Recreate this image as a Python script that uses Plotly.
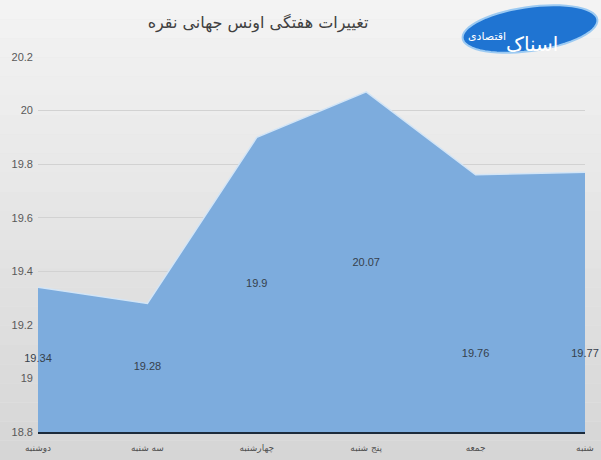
import numpy as np
import plotly.graph_objects as go

days = ["دوشنبه", "سه شنبه", "چهارشنبه", "پنج شنبه", "جمعه", "شنبه"]
prices = [19.34, 19.28, 19.9, 20.07, 19.76, 19.77]
label_y = [19.07, 19.04, 19.35, 19.43, 19.09, 19.09]
y_ticks = [18.8, 19, 19.2, 19.4, 19.6, 19.8, 20, 20.2]
y_tick_text = ["18.8", "19", "19.2", "19.4", "19.6", "19.8", "20", "20.2"]

W, H = 601, 460
ML, MR, MT, MB = 38, 16, 57, 28
PW, PH = W - ML - MR, H - MT - MB

def px_x(p):
    return (p - ML) / PW

def px_y(p):
    return (H - MB - p) / PH

x_idx = list(range(len(days)))

fig = go.Figure()

# background vertical gradient
n = 24
for i in range(n):
    t = i / (n - 1)
    g = int(round(243 - (243 - 214) * t))
    fig.add_shape(type="rect", xref="paper", yref="paper",
                  x0=px_x(0), x1=px_x(W), y0=px_y(H * (i + 1) / n), y1=px_y(H * i / n),
                  fillcolor=f"rgb({g},{g},{g})", line=dict(width=0), layer="below")

fig.add_trace(go.Scatter(
    x=x_idx, y=prices, mode="lines", fill="tozeroy",
    fillcolor="#7dacdd", line=dict(color="#d3e5f6", width=1.5),
    hoverinfo="skip", showlegend=False,
))
fig.add_trace(go.Scatter(
    x=x_idx, y=label_y, mode="text",
    text=[f"{v:g}" for v in prices],
    textfont=dict(family="Liberation Sans", size=11, color="#36414c"),
    textposition="middle center", cliponaxis=False,
    hoverinfo="skip", showlegend=False,
))

fig.update_layout(
    width=W, height=H,
    margin=dict(l=ML, r=MR, t=MT, b=MB),
    paper_bgcolor="#e6e6e6", plot_bgcolor="rgba(0,0,0,0)",
    title=dict(text="تغییرات هفتگی اونس جهانی نقره", x=258 / W, xref="container",
               xanchor="center", y=1 - 22 / H, yref="container", yanchor="middle",
               font=dict(family="DejaVu Sans", size=16, color="#404040")),
    xaxis=dict(range=[0, 5], tickmode="array", tickvals=x_idx, ticktext=days,
               showgrid=False, zeroline=False, showline=True, automargin=False,
               linecolor="#1c2a3a", linewidth=2, ticklabelstandoff=6,
               tickfont=dict(family="DejaVu Sans", size=9, color="#505050")),
    yaxis=dict(range=[18.8, 20.2], tickmode="array", tickvals=y_ticks,
               ticktext=y_tick_text, showgrid=True, gridcolor="#d2d2d2",
               gridwidth=1, zeroline=False, showline=False, ticks="", automargin=False,
               tickfont=dict(family="Liberation Sans", size=11, color="#595959"),
               ticklabelstandoff=4),
)

# logo approximation: tilted ellipse
cx, cy, rx, ry, ang = 530, 29, 68, 22, np.deg2rad(-8)
th = np.linspace(0, 2 * np.pi, 60)
ex = cx + rx * np.cos(th) * np.cos(ang) - ry * np.sin(th) * np.sin(ang)
ey = cy + rx * np.cos(th) * np.sin(ang) + ry * np.sin(th) * np.cos(ang)
path = "M " + " L ".join(f"{px_x(a):.4f},{px_y(b):.4f}" for a, b in zip(ex, ey)) + " Z"
fig.add_shape(type="path", xref="paper", yref="paper", path=path,
              fillcolor="#1f74d2", line=dict(color="#9ccaf2", width=2), layer="above")
fig.add_annotation(text="اسناک", xref="paper", yref="paper", x=px_x(560), y=px_y(30),
                   showarrow=False, font=dict(family="DejaVu Sans", size=20, color="white"))
fig.add_annotation(text="اقتصادی", xref="paper", yref="paper", x=px_x(508), y=px_y(28),
                   showarrow=False, font=dict(family="DejaVu Sans", size=11, color="white"))

fig.write_html("out.html", config={"displayModeBar": False},
               post_script="document.body.style.margin='0';")
